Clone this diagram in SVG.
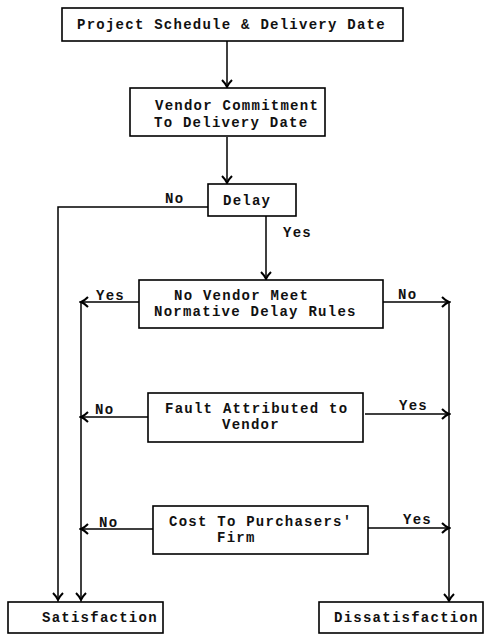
<svg xmlns="http://www.w3.org/2000/svg" width="484" height="635" viewBox="0 0 484 635">
<style>
.box{fill:#fff;stroke:#000;stroke-width:1.6}
.t{font-family:"Liberation Mono","Courier New",monospace;font-size:14px;letter-spacing:1.25px;font-weight:bold;fill:#111}
.c{fill:none;stroke:#000;stroke-width:1.5}
</style>
<defs>
<marker id="ah" viewBox="-9 -8 11 16" markerWidth="11" markerHeight="16" refX="0" refY="0" orient="auto" markerUnits="userSpaceOnUse">
<path d="M-7,-5 Q-3,-1 0,0 Q-3,1 -7,5" fill="none" stroke="#000" stroke-width="2"/>
</marker>
</defs>
<rect width="484" height="635" fill="#fff"/>
<g id="connectors">
<line class="c" x1="227" y1="41" x2="227" y2="87" marker-end="url(#ah)"/>
<line class="c" x1="227" y1="137" x2="227" y2="183" marker-end="url(#ah)"/>
<polyline class="c" points="208,207 58,207 58,600" marker-end="url(#ah)"/>
<line class="c" x1="266" y1="216" x2="266" y2="279" marker-end="url(#ah)"/>
<line class="c" x1="139" y1="302" x2="81" y2="302" marker-end="url(#ah)"/>
<line class="c" x1="81" y1="302" x2="81" y2="600" marker-end="url(#ah)"/>
<line class="c" x1="383" y1="302" x2="449" y2="302" marker-end="url(#ah)"/>
<line class="c" x1="449" y1="302" x2="449" y2="601" marker-end="url(#ah)"/>
<line class="c" x1="148" y1="417" x2="81" y2="417" marker-end="url(#ah)"/>
<line class="c" x1="365" y1="414" x2="449" y2="414" marker-end="url(#ah)"/>
<line class="c" x1="153" y1="529" x2="81" y2="529" marker-end="url(#ah)"/>
<line class="c" x1="368" y1="528" x2="449" y2="528" marker-end="url(#ah)"/>
<text class="t" x="165" y="203">No</text>
<text class="t" x="283" y="237">Yes</text>
<text class="t" x="96" y="300">Yes</text>
<text class="t" x="398" y="299">No</text>
<text class="t" x="95" y="414">No</text>
<text class="t" x="399" y="410">Yes</text>
<text class="t" x="99" y="527">No</text>
<text class="t" x="403" y="524">Yes</text>
</g>
<g id="project-schedule">
<rect class="box" x="62" y="8" width="341" height="33"/>
<text class="t" x="77" y="29">Project Schedule &amp; Delivery Date</text>
</g>
<g id="vendor-commitment">
<rect class="box" x="130" y="88" width="195" height="48"/>
<text class="t" x="155" y="110">Vendor Commitment</text>
<text class="t" x="154" y="127">To Delivery Date</text>
</g>
<g id="delay">
<rect class="box" x="208" y="184" width="88" height="32"/>
<text class="t" x="223" y="205">Delay</text>
</g>
<g id="normative-rules">
<rect class="box" x="139" y="280" width="244" height="48"/>
<text class="t" x="174" y="300">No Vendor Meet</text>
<text class="t" x="154" y="316">Normative Delay Rules</text>
</g>
<g id="fault">
<rect class="box" x="148" y="393" width="215" height="49"/>
<text class="t" x="165" y="413">Fault Attributed to</text>
<text class="t" x="222" y="429">Vendor</text>
</g>
<g id="cost">
<rect class="box" x="153" y="506" width="215" height="48"/>
<text class="t" x="169" y="526">Cost To Purchasers'</text>
<text class="t" x="217" y="542">Firm</text>
</g>
<g id="satisfaction">
<rect class="box" x="8" y="602" width="155" height="31"/>
<text class="t" x="42" y="622">Satisfaction</text>
</g>
<g id="dissatisfaction">
<rect class="box" x="319" y="602" width="164" height="31"/>
<text class="t" x="334" y="622">Dissatisfaction</text>
</g>
</svg>
